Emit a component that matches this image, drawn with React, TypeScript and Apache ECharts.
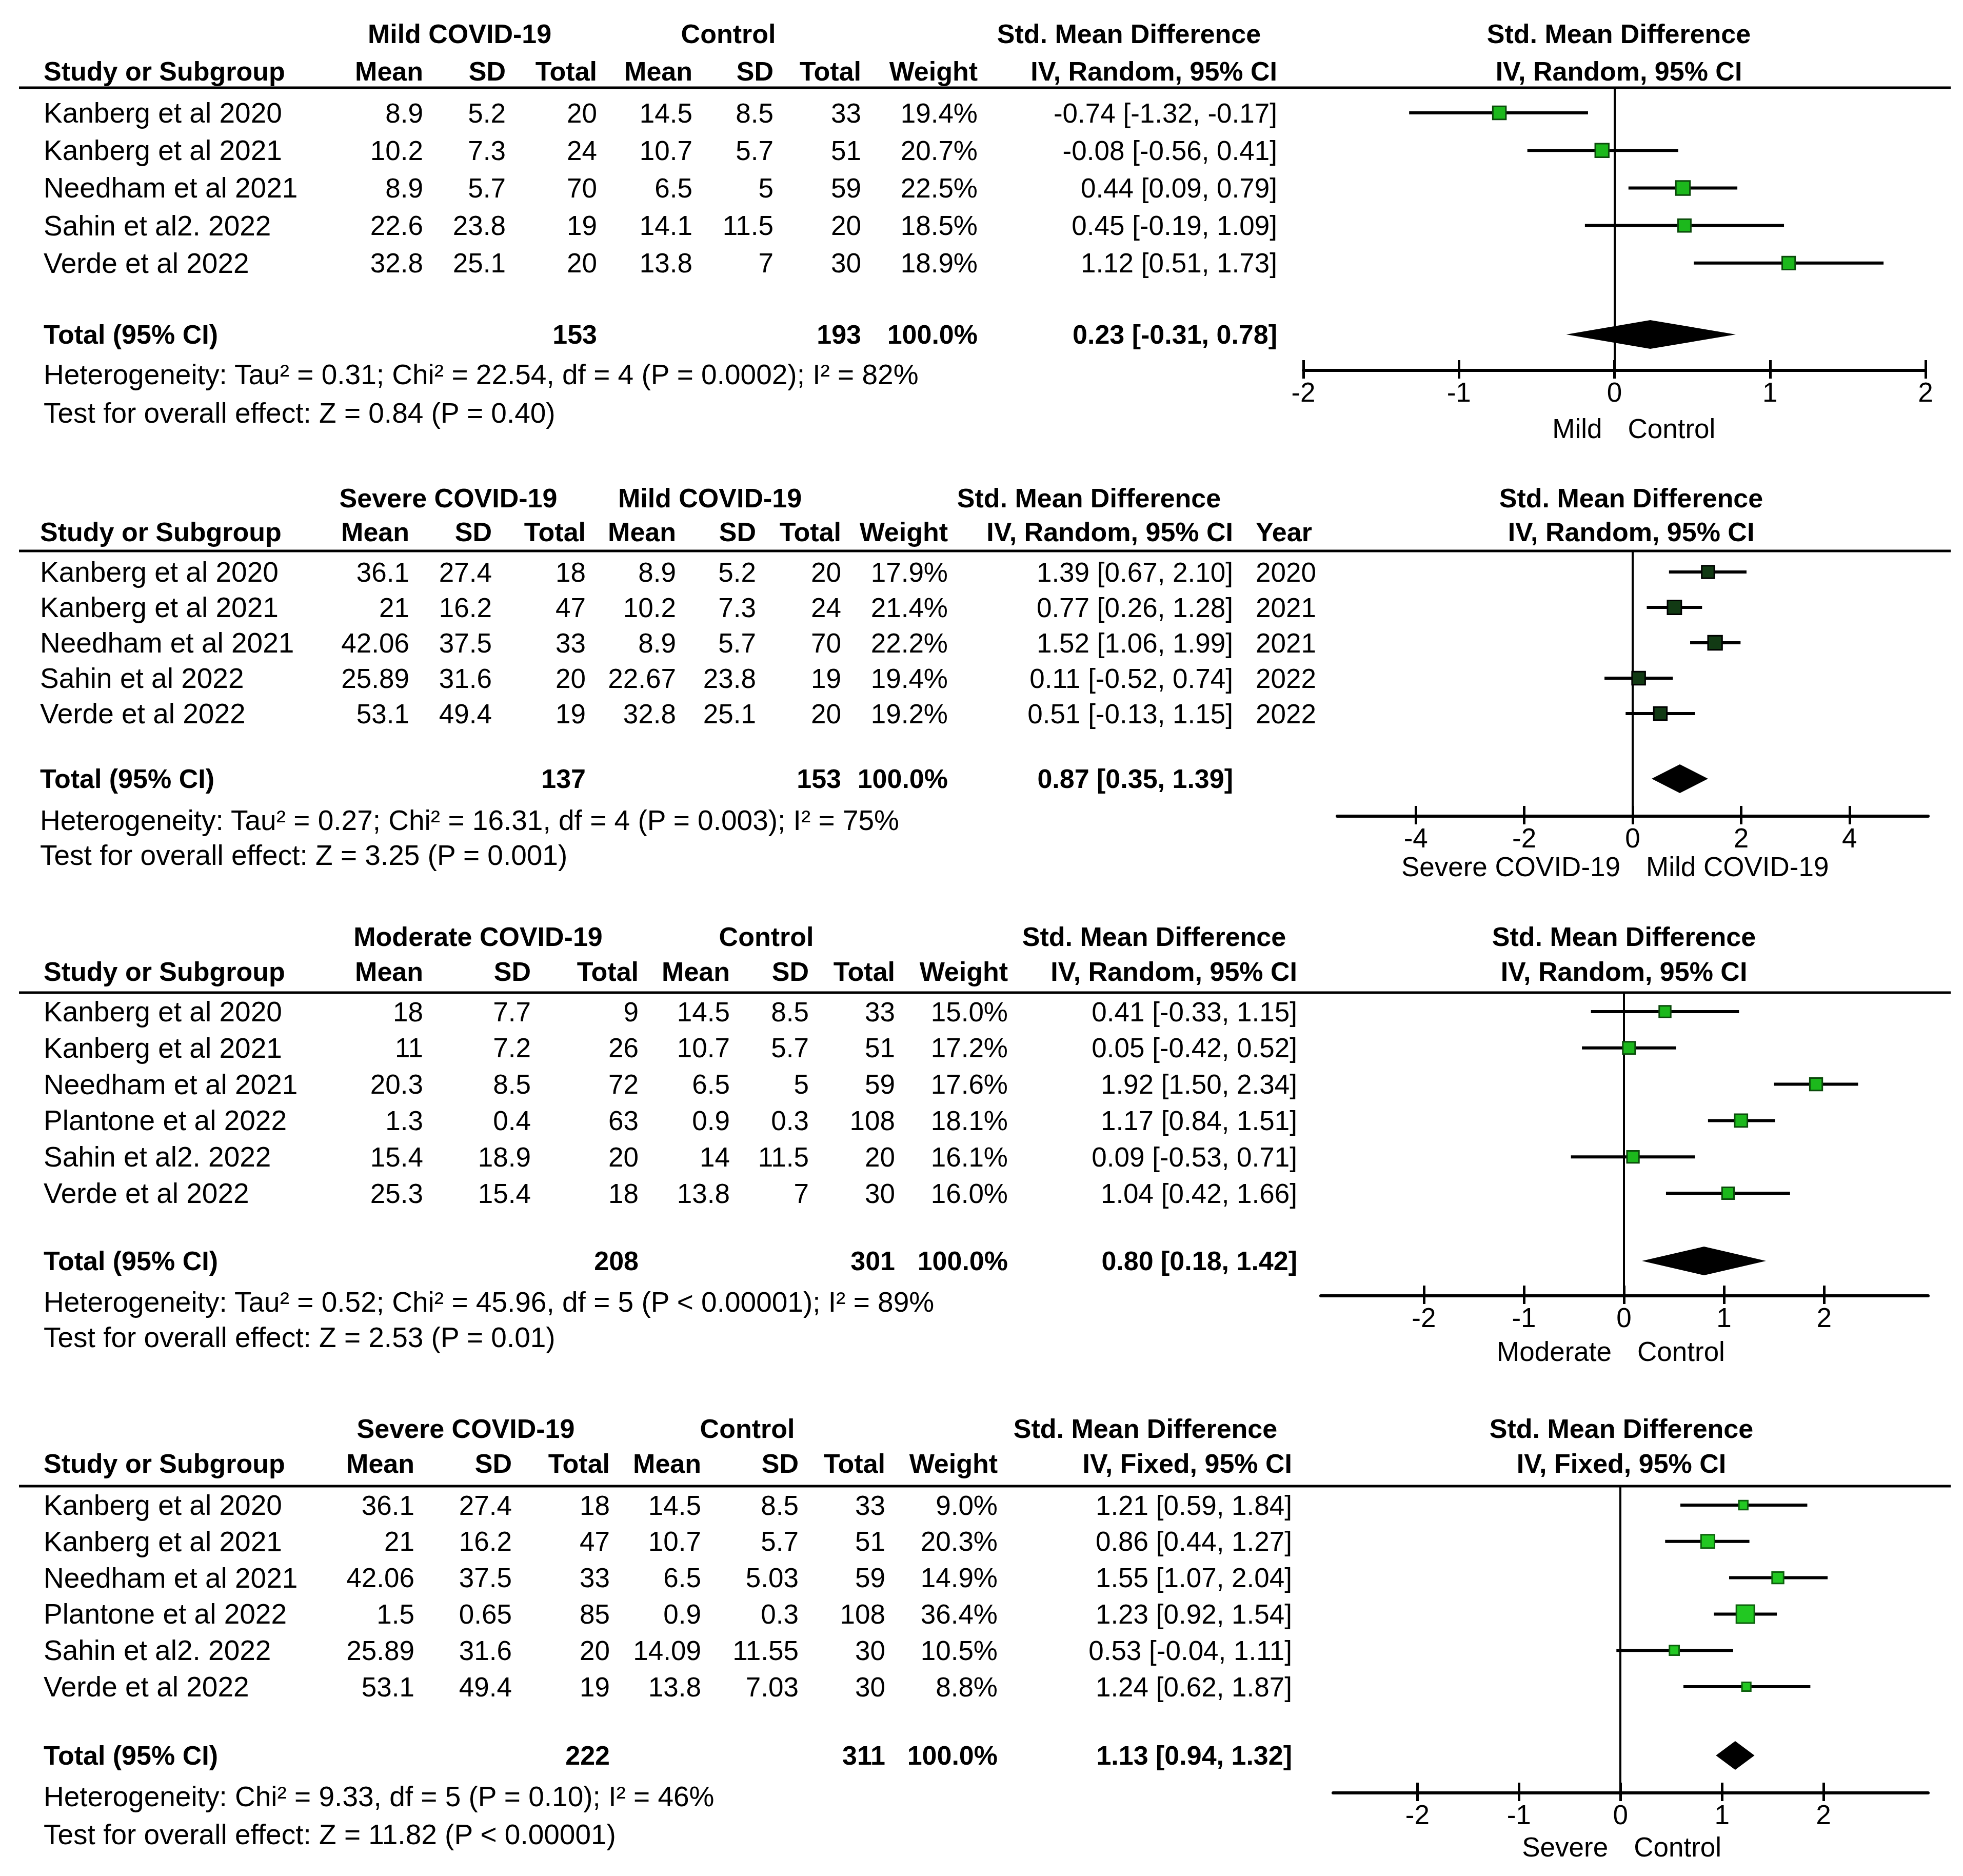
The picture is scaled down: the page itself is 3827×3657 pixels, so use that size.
import React, { useEffect, useRef } from "react";
import * as echarts from "echarts";

const W = 3827;
const H = 3657;
const FONT = "'Liberation Sans', Arial, Helvetica, sans-serif";

// ---------------- Panel 1: Mild COVID-19 vs Control ----------------
const p1Studies = ["Kanberg et al 2020", "Kanberg et al 2021", "Needham et al 2021", "Sahin et al2. 2022", "Verde et al 2022"];
const p1ExpMean = [8.9, 10.2, 8.9, 22.6, 32.8];
const p1ExpSD = [5.2, 7.3, 5.7, 23.8, 25.1];
const p1ExpN = [20, 24, 70, 19, 20];
const p1CtlMean = [14.5, 10.7, 6.5, 14.1, 13.8];
const p1CtlSD = [8.5, 5.7, 5, 11.5, 7];
const p1CtlN = [33, 51, 59, 20, 30];
const p1Weight = [19.4, 20.7, 22.5, 18.5, 18.9];
const p1Smd = [-0.74, -0.08, 0.44, 0.45, 1.12];
const p1Lo = [-1.32, -0.56, 0.09, -0.19, 0.51];
const p1Hi = [-0.17, 0.41, 0.79, 1.09, 1.73];
const p1Totals = [153, 193];
const p1Pooled = [0.23, -0.31, 0.78];
const p1Groups = ["Mild COVID-19", "Control"];
const p1Method = "IV, Random, 95% CI";
const p1Het = "Heterogeneity: Tau² = 0.31; Chi² = 22.54, df = 4 (P = 0.0002); I² = 82%";
const p1Overall = "Test for overall effect: Z = 0.84 (P = 0.40)";
const p1Favours = ["Mild", "Control"];
const p1Ticks = [-2, -1, 0, 1, 2];

// ---------------- Panel 2: Severe vs Mild COVID-19 ----------------
const p2Studies = ["Kanberg et al 2020", "Kanberg et al 2021", "Needham et al 2021", "Sahin et al 2022", "Verde et al 2022"];
const p2ExpMean = [36.1, 21, 42.06, 25.89, 53.1];
const p2ExpSD = [27.4, 16.2, 37.5, 31.6, 49.4];
const p2ExpN = [18, 47, 33, 20, 19];
const p2CtlMean = [8.9, 10.2, 8.9, 22.67, 32.8];
const p2CtlSD = [5.2, 7.3, 5.7, 23.8, 25.1];
const p2CtlN = [20, 24, 70, 19, 20];
const p2Weight = [17.9, 21.4, 22.2, 19.4, 19.2];
const p2Smd = [1.39, 0.77, 1.52, 0.11, 0.51];
const p2Lo = [0.67, 0.26, 1.06, -0.52, -0.13];
const p2Hi = [2.1, 1.28, 1.99, 0.74, 1.15];
const p2Years = [2020, 2021, 2021, 2022, 2022];
const p2Totals = [137, 153];
const p2Pooled = [0.87, 0.35, 1.39];
const p2Groups = ["Severe COVID-19", "Mild COVID-19"];
const p2Method = "IV, Random, 95% CI";
const p2Het = "Heterogeneity: Tau² = 0.27; Chi² = 16.31, df = 4 (P = 0.003); I² = 75%";
const p2Overall = "Test for overall effect: Z = 3.25 (P = 0.001)";
const p2Favours = ["Severe COVID-19", "Mild COVID-19"];
const p2Ticks = [-4, -2, 0, 2, 4];

// ---------------- Panel 3: Moderate COVID-19 vs Control ----------------
const p3Studies = ["Kanberg et al 2020", "Kanberg et al 2021", "Needham et al 2021", "Plantone et al 2022", "Sahin et al2. 2022", "Verde et al 2022"];
const p3ExpMean = [18, 11, 20.3, 1.3, 15.4, 25.3];
const p3ExpSD = [7.7, 7.2, 8.5, 0.4, 18.9, 15.4];
const p3ExpN = [9, 26, 72, 63, 20, 18];
const p3CtlMean = [14.5, 10.7, 6.5, 0.9, 14, 13.8];
const p3CtlSD = [8.5, 5.7, 5, 0.3, 11.5, 7];
const p3CtlN = [33, 51, 59, 108, 20, 30];
const p3Weight = [15.0, 17.2, 17.6, 18.1, 16.1, 16.0];
const p3Smd = [0.41, 0.05, 1.92, 1.17, 0.09, 1.04];
const p3Lo = [-0.33, -0.42, 1.5, 0.84, -0.53, 0.42];
const p3Hi = [1.15, 0.52, 2.34, 1.51, 0.71, 1.66];
const p3Totals = [208, 301];
const p3Pooled = [0.8, 0.18, 1.42];
const p3Groups = ["Moderate COVID-19", "Control"];
const p3Method = "IV, Random, 95% CI";
const p3Het = "Heterogeneity: Tau² = 0.52; Chi² = 45.96, df = 5 (P < 0.00001); I² = 89%";
const p3Overall = "Test for overall effect: Z = 2.53 (P = 0.01)";
const p3Favours = ["Moderate", "Control"];
const p3Ticks = [-2, -1, 0, 1, 2];

// ---------------- Panel 4: Severe COVID-19 vs Control ----------------
const p4Studies = ["Kanberg et al 2020", "Kanberg et al 2021", "Needham et al 2021", "Plantone et al 2022", "Sahin et al2. 2022", "Verde et al 2022"];
const p4ExpMean = [36.1, 21, 42.06, 1.5, 25.89, 53.1];
const p4ExpSD = [27.4, 16.2, 37.5, 0.65, 31.6, 49.4];
const p4ExpN = [18, 47, 33, 85, 20, 19];
const p4CtlMean = [14.5, 10.7, 6.5, 0.9, 14.09, 13.8];
const p4CtlSD = [8.5, 5.7, 5.03, 0.3, 11.55, 7.03];
const p4CtlN = [33, 51, 59, 108, 30, 30];
const p4Weight = [9.0, 20.3, 14.9, 36.4, 10.5, 8.8];
const p4Smd = [1.21, 0.86, 1.55, 1.23, 0.53, 1.24];
const p4Lo = [0.59, 0.44, 1.07, 0.92, -0.04, 0.62];
const p4Hi = [1.84, 1.27, 2.04, 1.54, 1.11, 1.87];
const p4Totals = [222, 311];
const p4Pooled = [1.13, 0.94, 1.32];
const p4Groups = ["Severe COVID-19", "Control"];
const p4Method = "IV, Fixed, 95% CI";
const p4Het = "Heterogeneity: Chi² = 9.33, df = 5 (P = 0.10); I² = 46%";
const p4Overall = "Test for overall effect: Z = 11.82 (P < 0.00001)";
const p4Favours = ["Severe", "Control"];
const p4Ticks = [-2, -1, 0, 1, 2];

const PANELS = [
  { studies: p1Studies, expMean: p1ExpMean, expSD: p1ExpSD, expN: p1ExpN, ctlMean: p1CtlMean, ctlSD: p1CtlSD, ctlN: p1CtlN, weight: p1Weight, smd: p1Smd, lo: p1Lo, hi: p1Hi, totals: p1Totals, pooled: p1Pooled, groups: p1Groups, method: p1Method, het: p1Het, overall: p1Overall, favours: p1Favours, ticks: p1Ticks, years: null as number[] | null },
  { studies: p2Studies, expMean: p2ExpMean, expSD: p2ExpSD, expN: p2ExpN, ctlMean: p2CtlMean, ctlSD: p2CtlSD, ctlN: p2CtlN, weight: p2Weight, smd: p2Smd, lo: p2Lo, hi: p2Hi, totals: p2Totals, pooled: p2Pooled, groups: p2Groups, method: p2Method, het: p2Het, overall: p2Overall, favours: p2Favours, ticks: p2Ticks, years: p2Years as number[] | null },
  { studies: p3Studies, expMean: p3ExpMean, expSD: p3ExpSD, expN: p3ExpN, ctlMean: p3CtlMean, ctlSD: p3CtlSD, ctlN: p3CtlN, weight: p3Weight, smd: p3Smd, lo: p3Lo, hi: p3Hi, totals: p3Totals, pooled: p3Pooled, groups: p3Groups, method: p3Method, het: p3Het, overall: p3Overall, favours: p3Favours, ticks: p3Ticks, years: null as number[] | null },
  { studies: p4Studies, expMean: p4ExpMean, expSD: p4ExpSD, expN: p4ExpN, ctlMean: p4CtlMean, ctlSD: p4CtlSD, ctlN: p4CtlN, weight: p4Weight, smd: p4Smd, lo: p4Lo, hi: p4Hi, totals: p4Totals, pooled: p4Pooled, groups: p4Groups, method: p4Method, het: p4Het, overall: p4Overall, favours: p4Favours, ticks: p4Ticks, years: null as number[] | null },
];

// ---------------- Layout (pixel positions & styles) ----------------
const LAYOUTS = [
  {
    groupY: 66, headY: 139, lineY: 171, row0: 220, rowH: 73.2, totalY: 652, hetY: 730, testY: 805, axisY: 722, favY: 835,
    xMin: -2, xMax: 2, gridLeft: 2541, gridRight: 3754,
    col: { study: 85, eMean: 825, eSD: 986, eTot: 1164, cMean: 1350, cSD: 1508, cTot: 1679, wt: 1906, ci: 2490, year: 0 },
    groupX: [896, 1420], smdX: 2201, rightX: 3156, fill: "#1cb81c", stroke: "#0b4a0b",
  },
  {
    groupY: 971, headY: 1037, lineY: 1074, row0: 1115, rowH: 69, totalY: 1518, hetY: 1599, testY: 1667, axisY: 1591, favY: 1689,
    xMin: -5.45, xMax: 5.45, gridLeft: 2607, gridRight: 3759,
    col: { study: 78, eMean: 798, eSD: 959, eTot: 1142, cMean: 1318, cSD: 1474, cTot: 1640, wt: 1848, ci: 2404, year: 2448 },
    groupX: [874, 1384], smdX: 2123, rightX: 3180, fill: "#123a14", stroke: "#000000",
  },
  {
    groupY: 1826, headY: 1894, lineY: 1935, row0: 1972, rowH: 70.8, totalY: 2458, hetY: 2538, testY: 2607, axisY: 2526, favY: 2634,
    xMin: -3.03, xMax: 3.04, gridLeft: 2575, gridRight: 3759,
    col: { study: 85, eMean: 825, eSD: 1035, eTot: 1245, cMean: 1423, cSD: 1577, cTot: 1745, wt: 1965, ci: 2529, year: 0 },
    groupX: [932, 1494], smdX: 2250, rightX: 3166, fill: "#1cb81c", stroke: "#0b4a0b",
  },
  {
    groupY: 2785, headY: 2853, lineY: 2897, row0: 2934, rowH: 70.8, totalY: 3422, hetY: 3502, testY: 3576, axisY: 3495, favY: 3600,
    xMin: -2.83, xMax: 3.03, gridLeft: 2599, gridRight: 3759,
    col: { study: 85, eMean: 808, eSD: 998, eTot: 1189, cMean: 1367, cSD: 1557, cTot: 1726, wt: 1945, ci: 2519, year: 0 },
    groupX: [908, 1457], smdX: 2233, rightX: 3161, fill: "#22c822", stroke: "#0d600d",
  },
];

const NUM_SIZE = 53;
const NAME_SIZE = 55;
const HEAD_SIZE = 52;

const f2 = (v: number) => v.toFixed(2);
const ciText = (s: number, l: number, h: number) => `${f2(s)} [${f2(l)}, ${f2(h)}]`;

function txt(x: number, y: number, text: string, align: string, bold: boolean, size: number) {
  return {
    type: "text",
    x,
    y,
    silent: true,
    style: {
      text,
      fill: "#000",
      fontSize: size,
      fontWeight: bold ? "bold" : "normal",
      fontFamily: FONT,
      textAlign: align,
      textVerticalAlign: "middle",
    },
  };
}

function buildOption() {
  const graphic: any[] = [];
  const grid: any[] = [];
  const xAxis: any[] = [];
  const yAxis: any[] = [];
  const series: any[] = [];

  PANELS.forEach((p, k) => {
    const L = LAYOUTS[k];
    const c = L.col;
    // Group headers
    graphic.push(txt(L.groupX[0], L.groupY, p.groups[0], "center", true, HEAD_SIZE));
    graphic.push(txt(L.groupX[1], L.groupY, p.groups[1], "center", true, HEAD_SIZE));
    graphic.push(txt(L.smdX, L.groupY, "Std. Mean Difference", "center", true, HEAD_SIZE));
    graphic.push(txt(L.rightX, L.groupY, "Std. Mean Difference", "center", true, HEAD_SIZE));
    // Column headers
    graphic.push(txt(c.study, L.headY, "Study or Subgroup", "left", true, HEAD_SIZE));
    graphic.push(txt(c.eMean, L.headY, "Mean", "right", true, HEAD_SIZE));
    graphic.push(txt(c.eSD, L.headY, "SD", "right", true, HEAD_SIZE));
    graphic.push(txt(c.eTot, L.headY, "Total", "right", true, HEAD_SIZE));
    graphic.push(txt(c.cMean, L.headY, "Mean", "right", true, HEAD_SIZE));
    graphic.push(txt(c.cSD, L.headY, "SD", "right", true, HEAD_SIZE));
    graphic.push(txt(c.cTot, L.headY, "Total", "right", true, HEAD_SIZE));
    graphic.push(txt(c.wt, L.headY, "Weight", "right", true, HEAD_SIZE));
    graphic.push(txt(c.ci, L.headY, p.method, "right", true, HEAD_SIZE));
    if (p.years) graphic.push(txt(c.year, L.headY, "Year", "left", true, HEAD_SIZE));
    graphic.push(txt(L.rightX, L.headY, p.method, "center", true, HEAD_SIZE));
    // Separator line
    graphic.push({
      type: "line",
      silent: true,
      shape: { x1: 37, y1: L.lineY, x2: 3803, y2: L.lineY },
      style: { stroke: "#000", lineWidth: 5 },
    });
    // Study rows
    p.studies.forEach((s, i) => {
      const y = L.row0 + i * L.rowH;
      graphic.push(txt(c.study, y, s, "left", false, NAME_SIZE));
      graphic.push(txt(c.eMean, y, String(p.expMean[i]), "right", false, NUM_SIZE));
      graphic.push(txt(c.eSD, y, String(p.expSD[i]), "right", false, NUM_SIZE));
      graphic.push(txt(c.eTot, y, String(p.expN[i]), "right", false, NUM_SIZE));
      graphic.push(txt(c.cMean, y, String(p.ctlMean[i]), "right", false, NUM_SIZE));
      graphic.push(txt(c.cSD, y, String(p.ctlSD[i]), "right", false, NUM_SIZE));
      graphic.push(txt(c.cTot, y, String(p.ctlN[i]), "right", false, NUM_SIZE));
      graphic.push(txt(c.wt, y, p.weight[i].toFixed(1) + "%", "right", false, NUM_SIZE));
      graphic.push(txt(c.ci, y, ciText(p.smd[i], p.lo[i], p.hi[i]), "right", false, NUM_SIZE));
      if (p.years) graphic.push(txt(c.year, y, String(p.years[i]), "left", false, NUM_SIZE));
    });
    // Total row
    graphic.push(txt(c.study, L.totalY, "Total (95% CI)", "left", true, HEAD_SIZE));
    graphic.push(txt(c.eTot, L.totalY, String(p.totals[0]), "right", true, HEAD_SIZE));
    graphic.push(txt(c.cTot, L.totalY, String(p.totals[1]), "right", true, HEAD_SIZE));
    graphic.push(txt(c.wt, L.totalY, "100.0%", "right", true, HEAD_SIZE));
    graphic.push(txt(c.ci, L.totalY, ciText(p.pooled[0], p.pooled[1], p.pooled[2]), "right", true, HEAD_SIZE));
    // Heterogeneity / overall
    graphic.push(txt(c.study, L.hetY, p.het, "left", false, NAME_SIZE));
    graphic.push(txt(c.study, L.testY, p.overall, "left", false, NAME_SIZE));
    // Favours labels
    const zeroX = L.gridLeft + ((0 - L.xMin) / (L.xMax - L.xMin)) * (L.gridRight - L.gridLeft);
    graphic.push(txt(zeroX - 24, L.favY, p.favours[0], "right", false, NUM_SIZE));
    graphic.push(txt(zeroX + 26, L.favY, p.favours[1], "left", false, NUM_SIZE));

    // Forest plot grid
    grid.push({ left: L.gridLeft, width: L.gridRight - L.gridLeft, top: L.lineY, height: L.axisY - L.lineY });
    xAxis.push({
      gridIndex: k,
      type: "value",
      min: L.xMin,
      max: L.xMax,
      position: "bottom",
      axisLine: { show: true, onZero: false, lineStyle: { color: "#000", width: 6 } },
      axisTick: { show: true, inside: true, length: 20, customValues: p.ticks, lineStyle: { color: "#000", width: 5 } },
      axisLabel: { show: false },
      splitLine: { show: false },
    });
    xAxis.push({
      gridIndex: k,
      type: "value",
      min: L.xMin,
      max: L.xMax,
      position: "bottom",
      axisLine: { show: false, onZero: false },
      axisTick: { show: true, inside: false, length: 16, customValues: p.ticks, lineStyle: { color: "#000", width: 5 } },
      axisLabel: {
        show: true,
        customValues: p.ticks,
        margin: 16,
        color: "#000",
        fontSize: NUM_SIZE,
        fontFamily: FONT,
        formatter: (v: number) => String(v),
      },
      splitLine: { show: false },
    });
    yAxis.push({
      gridIndex: k,
      type: "value",
      inverse: true,
      show: false,
      min: (L.lineY - L.row0) / L.rowH,
      max: (L.axisY - L.row0) / L.rowH,
      splitLine: { show: false },
    });

    const xi = 2 * k;
    // CI whiskers
    series.push({
      type: "custom",
      coordinateSystem: "cartesian2d",
      xAxisIndex: xi,
      yAxisIndex: k,
      silent: true,
      z: 3,
      data: p.studies.map((_, i) => [p.lo[i], p.hi[i], i]),
      renderItem: (_params: any, api: any) => {
        const a = api.coord([api.value(0), api.value(2)]);
        const b = api.coord([api.value(1), api.value(2)]);
        return {
          type: "line",
          shape: { x1: a[0], y1: a[1], x2: b[0], y2: b[1] },
          style: { stroke: "#000", lineWidth: 6 },
        };
      },
    });
    // Point estimates
    series.push({
      type: "scatter",
      xAxisIndex: xi,
      yAxisIndex: k,
      silent: true,
      z: 4,
      symbol: "rect",
      symbolSize: (v: number[]) => 5.8 * Math.sqrt(v[2]),
      itemStyle: { color: L.fill, borderColor: L.stroke, borderWidth: 3, opacity: 1 },
      data: p.studies.map((_, i) => [p.smd[i], i, p.weight[i]]),
      markLine: {
        silent: true,
        symbol: "none",
        label: { show: false },
        lineStyle: { color: "#000", width: 4, type: "solid" },
        data: [{ xAxis: 0 }],
        z: 2,
      },
    });
    // Pooled diamond
    series.push({
      type: "custom",
      coordinateSystem: "cartesian2d",
      xAxisIndex: xi,
      yAxisIndex: k,
      silent: true,
      z: 5,
      data: [[p.pooled[0], p.pooled[1], p.pooled[2], (L.totalY - L.row0) / L.rowH]],
      renderItem: (_params: any, api: any) => {
        const y = api.value(3);
        const cc = api.coord([api.value(0), y]);
        const l = api.coord([api.value(1), y]);
        const r = api.coord([api.value(2), y]);
        return {
          type: "polygon",
          shape: { points: [[l[0], cc[1]], [cc[0], cc[1] - 28], [r[0], cc[1]], [cc[0], cc[1] + 28]] },
          style: { fill: "#000" },
        };
      },
    });
  });

  return {
    animation: false,
    backgroundColor: "#ffffff",
    grid,
    xAxis,
    yAxis,
    series,
    graphic: { elements: graphic },
  };
}

export default function App() {
  const ref = useRef<HTMLDivElement>(null);
  useEffect(() => {
    document.body.style.margin = "0";
    document.body.style.overflow = "hidden";
    if (!ref.current) return;
    const chart = echarts.init(ref.current, undefined, { renderer: "svg", width: W, height: H });
    chart.setOption(buildOption() as any);
    return () => chart.dispose();
  }, []);
  return (
    <div
      ref={ref}
      style={{ position: "absolute", left: 0, top: 0, width: W, height: H, background: "#fff" }}
    />
  );
}
